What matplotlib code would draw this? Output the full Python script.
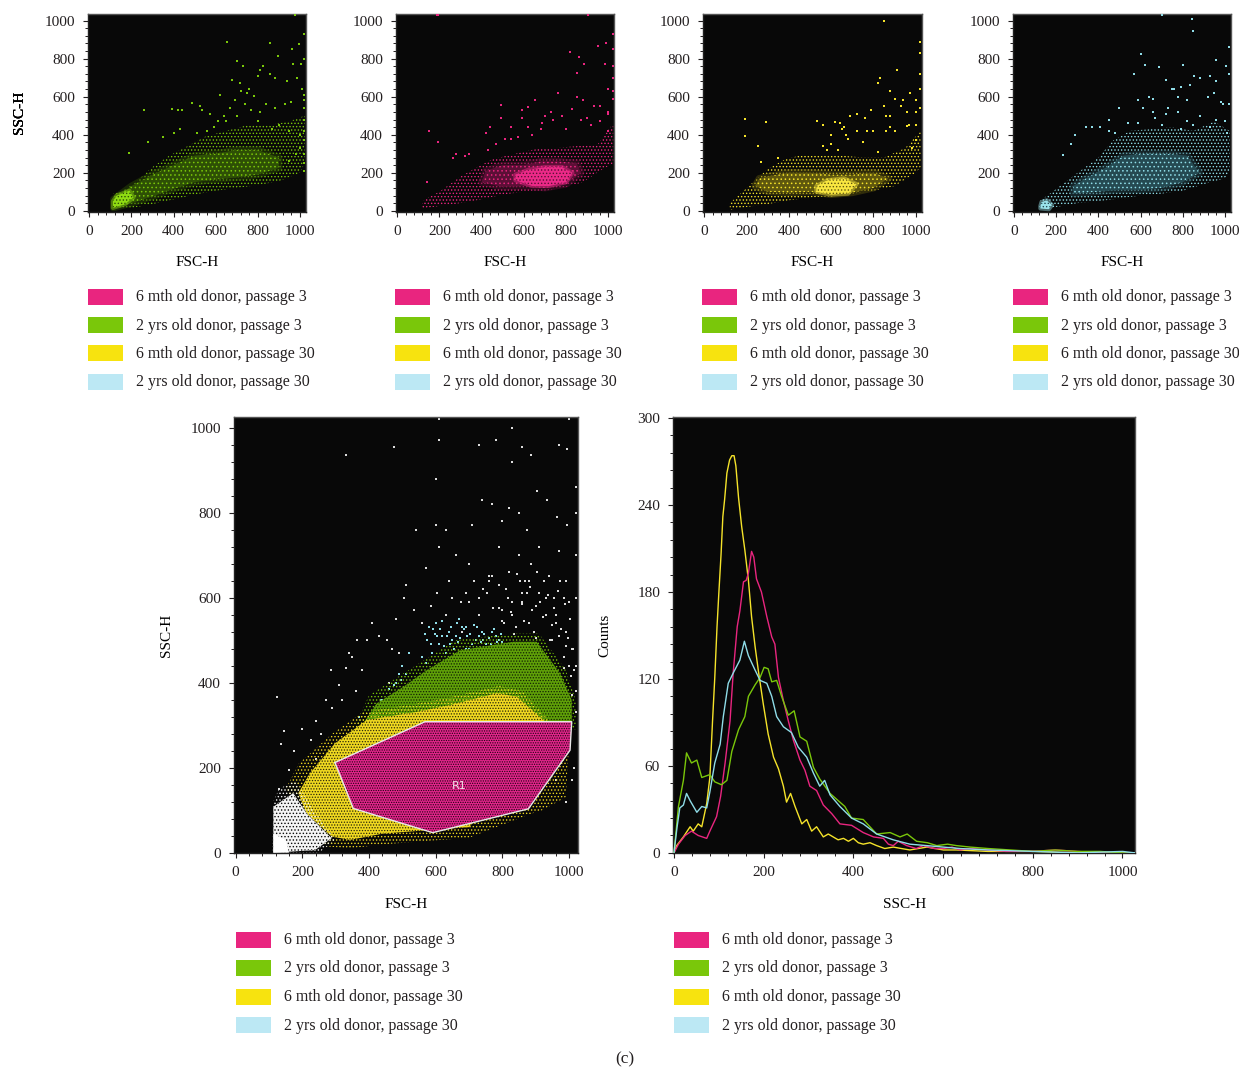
import matplotlib
matplotlib.use("Agg")
import matplotlib.pyplot as plt
from matplotlib.patches import Polygon, Rectangle

plt.rcParams["font.family"] = ["Liberation Serif", "DejaVu Serif"]
plt.rcParams["font.size"] = 11
plt.rcParams["hatch.linewidth"] = 0.6
plt.rcParams["text.color"] = "#231f20"

W, H = 1239, 1070

legend_labels = [
    "6 mth old donor, passage 3",
    "2 yrs old donor, passage 3",
    "6 mth old donor, passage 30",
    "2 yrs old donor, passage 30",
]
legend_colors = ["#e9257f", "#7ac70a", "#f7e30f", "#bce8f4"]

# green panel: cloud outlines
green_outer_x = [115, 200, 300, 400, 500, 600, 700, 800, 900, 1000, 1023, 1023, 950, 850, 750, 650, 550, 450, 380, 300, 220, 150, 115]
green_outer_y = [10, 15, 35, 60, 85, 105, 120, 135, 155, 200, 250, 500, 470, 450, 450, 420, 390, 330, 290, 230, 150, 100, 90]
green_core_x = [115, 200, 300, 400, 500, 600, 700, 800, 900, 900, 800, 700, 600, 500, 400, 300, 200, 115]
green_core_y = [15, 40, 75, 115, 150, 165, 175, 190, 225, 280, 320, 320, 300, 290, 240, 190, 130, 60]
green_hot_x = [112, 170, 210, 190, 130, 112]
green_hot_y = [15, 35, 70, 105, 80, 50]
green_x = [261, 391, 423, 439, 486, 526, 534, 573, 652, 858, 703, 732, 827, 898, 961, 996, 977, 1020, 1020, 715, 680, 810, 800, 860, 880, 940, 985, 1005, 970, 1010, 960, 930, 1020, 1020, 1020, 1020, 1020, 1020, 1020, 1020, 1020, 620, 750, 720, 780, 690, 670, 740, 770, 810, 840, 880, 760, 700, 640, 610, 650, 590, 560, 510, 430, 400, 350, 280, 190, 900, 950, 870, 800, 1000, 1000, 980, 950]
green_y = [530, 535, 530, 530, 568, 551, 530, 507, 889, 884, 788, 763, 763, 814, 851, 877, 1030, 930, 800, 670, 690, 740, 710, 720, 700, 680, 700, 770, 770, 640, 570, 560, 610, 580, 540, 480, 420, 370, 300, 250, 210, 610, 620, 630, 605, 580, 540, 560, 530, 520, 560, 540, 640, 500, 500, 470, 470, 440, 420, 410, 430, 410, 390, 360, 305, 450, 420, 430, 470, 400, 330, 300, 260]

# pink panel
pink_outer_x = [115, 200, 300, 400, 500, 600, 700, 800, 880, 960, 1023, 1023, 950, 850, 750, 680, 600, 520, 450, 380, 300, 200, 130, 115]
pink_outer_y = [10, 25, 40, 60, 85, 100, 105, 125, 150, 210, 250, 460, 350, 340, 330, 330, 310, 290, 270, 230, 180, 100, 60, 30]
pink_core_x = [400, 500, 600, 700, 800, 870, 850, 760, 680, 600, 500, 420, 400]
pink_core_y = [150, 125, 130, 120, 140, 200, 250, 260, 260, 240, 240, 210, 150]
pink_hot_x = [560, 640, 720, 800, 830, 780, 700, 620, 560]
pink_hot_y = [160, 130, 130, 150, 200, 230, 230, 215, 190]
pink_x = [190, 150, 140, 195, 280, 265, 320, 340, 440, 420, 490, 490, 540, 590, 590, 620, 655, 685, 820, 860, 885, 850, 950, 990, 985, 1020, 1020, 1020, 1020, 905, 195, 1000, 1020, 1020, 1000, 880, 900, 930, 960, 830, 760, 740, 700, 680, 640, 570, 540, 510, 470, 430, 620, 730, 780, 800, 870, 850, 960, 1000, 1000, 920]
pink_y = [1030, 420, 150, 360, 300, 280, 290, 300, 440, 410, 490, 555, 380, 530, 490, 545, 585, 460, 835, 810, 770, 725, 865, 885, 770, 930, 850, 760, 700, 1030, 1030, 640, 630, 590, 520, 580, 490, 550, 470, 535, 620, 480, 500, 430, 400, 390, 440, 380, 350, 320, 440, 520, 500, 430, 480, 600, 550, 510, 420, 450]

# yellow panel
yellow_outer_x = [120, 200, 300, 400, 500, 600, 700, 800, 900, 1000, 1023, 1023, 950, 850, 750, 650, 550, 450, 380, 300, 220, 160, 120]
yellow_outer_y = [5, 20, 35, 55, 70, 75, 90, 105, 130, 200, 230, 420, 330, 280, 280, 290, 290, 290, 270, 220, 140, 80, 40]
yellow_core_x = [240, 300, 400, 500, 600, 700, 800, 870, 800, 700, 600, 500, 400, 320, 260, 240]
yellow_core_y = [130, 100, 95, 100, 85, 95, 120, 170, 200, 190, 190, 200, 200, 185, 170, 130]
yellow_hot_x = [530, 600, 680, 720, 660, 580, 530]
yellow_hot_y = [100, 85, 90, 140, 170, 160, 130]
yellow_x = [190, 190, 290, 255, 270, 350, 535, 560, 600, 620, 650, 680, 690, 720, 750, 790, 800, 820, 850, 820, 830, 880, 900, 910, 930, 960, 975, 850, 860, 880, 970, 1000, 1020, 1020, 1020, 1020, 1020, 940, 900, 1000, 1000, 960, 880, 860, 720, 770, 760, 600, 630, 640, 660, 670, 560, 580, 1000, 980]
yellow_y = [485, 395, 465, 340, 255, 280, 470, 450, 400, 465, 430, 380, 500, 510, 360, 530, 420, 310, 1000, 670, 700, 630, 590, 740, 550, 520, 620, 550, 500, 500, 450, 580, 890, 830, 720, 640, 540, 580, 420, 520, 450, 445, 440, 420, 420, 420, 490, 350, 320, 460, 440, 400, 340, 320, 370, 330]

# cyan panel
cyan_outer_x = [120, 200, 300, 400, 500, 600, 700, 800, 900, 1000, 1023, 1023, 950, 850, 750, 650, 550, 470, 400, 320, 230, 170, 120]
cyan_outer_y = [15, 20, 40, 50, 65, 80, 90, 105, 140, 170, 210, 420, 470, 420, 440, 430, 420, 370, 280, 215, 140, 90, 50]
cyan_core_x = [280, 400, 500, 600, 700, 800, 880, 820, 720, 620, 520, 440, 340, 280]
cyan_core_y = [90, 100, 110, 110, 120, 150, 200, 290, 300, 300, 290, 230, 170, 130]
cyan_hot_x = [125, 165, 180, 155, 130, 125]
cyan_hot_y = [12, 8, 30, 55, 45, 25]
cyan_x = [600, 620, 570, 690, 800, 845, 850, 960, 700, 760, 720, 750, 790, 835, 855, 880, 930, 960, 1005, 1020, 1020, 1020, 990, 980, 950, 920, 590, 660, 820, 780, 660, 640, 610, 500, 450, 370, 340, 290, 270, 230, 450, 410, 480, 540, 590, 670, 720, 730, 780, 820, 880, 930, 960, 1000, 1010, 850, 790, 700]
cyan_y = [825, 765, 720, 755, 765, 1010, 945, 795, 1030, 640, 690, 640, 650, 660, 710, 700, 710, 680, 760, 860, 720, 560, 560, 570, 620, 600, 580, 520, 580, 600, 590, 600, 540, 540, 480, 440, 440, 400, 350, 295, 420, 440, 410, 460, 460, 490, 510, 540, 520, 470, 500, 440, 480, 470, 410, 450, 430, 450]

# gated overlay panel
gate_x = [298, 568, 1008, 1003, 878, 591, 353, 298]
gate_y = [212, 308, 308, 241, 103, 47, 104, 212]
ov_green_x = [383, 423, 503, 573, 673, 833, 903, 973, 1008, 1008, 600, 383]
ov_green_y = [304, 351, 390, 429, 476, 496, 496, 422, 359, 300, 290, 300]
ov_green_fringe_x = [360, 400, 480, 560, 660, 830, 910, 990, 1020, 1020, 360]
ov_green_fringe_y = [300, 370, 410, 450, 500, 515, 515, 430, 360, 290, 290]
ov_yellow_x = [288, 213, 188, 223, 298, 393, 543, 643, 783, 843, 923, 960, 700, 443, 343, 288]
ov_yellow_y = [38, 92, 140, 187, 257, 312, 331, 347, 375, 367, 312, 290, 60, 45, 30, 38]
ov_yellow_fringe_x = [270, 190, 150, 190, 290, 380, 540, 640, 790, 860, 940, 1000, 990, 920, 880, 700, 450, 340]
ov_yellow_fringe_y = [15, 80, 150, 210, 280, 330, 350, 365, 392, 380, 310, 250, 130, 100, 90, 35, 20, 10]
ov_white_x = [113, 238, 288, 213, 173, 113]
ov_white_y = [0, 6, 34, 92, 140, 108]
ov_white_fringe_x = [110, 250, 300, 225, 180, 130, 113]
ov_white_fringe_y = [0, 0, 30, 110, 170, 150, 120]
ov_solid_x = [113, 160, 150, 113]
ov_solid_y = [0, 0, 30, 45]
ov_white_pts_x = [125, 145, 135, 160, 175, 130, 200, 225, 240, 255,
                  270, 240, 290, 310, 320, 285, 330, 350, 340, 365,
                  395, 380, 360, 410, 430, 455, 470, 490, 505, 535,
                  560, 585, 605, 630, 650, 680, 700, 730, 760, 790,
                  830, 860, 885, 930, 960, 1000, 1020, 1020, 1020, 1020,
                  1020, 1020, 1020, 1010, 990, 970, 940, 910, 880, 850,
                  820, 790, 760, 730, 700, 660, 630, 600, 570, 540,
                  510, 480, 460, 440, 800, 830, 860, 900, 930, 960,
                  990, 880, 910, 950, 985, 800, 770, 740, 710, 675,
                  640, 610, 580, 820, 850, 875, 905, 935, 965, 995,
                  475, 330, 600, 610, 690, 730, 780, 830, 860, 830,
                  885, 970, 995, 590, 610, 1000, 1015, 1010, 990, 960,
                  790, 805, 818, 826, 842, 858, 866, 874, 888, 896,
                  912, 922, 936, 948, 954, 968, 976, 988, 996, 1004,
                  812, 836, 852, 882, 902, 926, 944, 972, 984, 1012,
                  1000, 1006, 985, 962, 978, 1014, 992, 1008, 970, 955,
                  755, 772, 798, 845, 868, 905, 742, 768, 716, 690]
ov_white_pts_y = [365, 285, 255, 195, 240, 150, 290, 265, 310, 280,
                  360, 220, 340, 395, 360, 430, 435, 460, 470, 500,
                  500, 430, 380, 540, 510, 500, 480, 470, 600, 570,
                  540, 580, 610, 560, 600, 520, 590, 560, 640, 630,
                  590, 610, 680, 600, 560, 590, 600, 700, 800, 860,
                  440, 380, 330, 480, 640, 710, 650, 720, 640, 700,
                  660, 720, 650, 600, 680, 700, 760, 770, 670, 760,
                  630, 550, 400, 360, 570, 560, 590, 580, 560, 540,
                  520, 540, 610, 500, 460, 780, 820, 830, 770, 590,
                  640, 720, 530, 810, 800, 760, 850, 830, 790, 770,
                  955, 935, 880, 970, 1025, 960, 970, 920, 955, 1000,
                  935, 960, 950, 1025, 1020, 1020, 200, 170, 120, 170,
                  575, 540, 600, 565, 530, 585, 545, 610, 570, 520,
                  590, 555, 605, 535, 575, 615, 525, 585, 505, 550,
                  620, 515, 640, 625, 505, 640, 500, 640, 600, 480,
                  440, 415, 435, 560, 395, 430, 485, 370, 510, 600,
                  610, 575, 545, 655, 640, 660, 620, 650, 640, 610]
ov_cyan_x = [440, 460, 480, 490, 500, 510, 520, 430, 450, 470, 560, 580, 600, 620, 640, 660, 680, 700, 720, 740, 760, 780, 800, 560, 590, 610, 630, 650, 670, 690, 710, 730, 750, 770, 790, 575, 605, 635, 665, 695, 725, 370, 390, 410, 345, 440, 470, 550, 530, 600, 640,
             570, 585, 598, 612, 625, 645, 655, 672, 685, 702, 715, 735, 745, 765, 775, 785, 795, 568, 592, 618, 642, 668, 692, 716, 742, 768, 420, 435, 455, 475, 495]
ov_cyan_y = [360, 385, 400, 420, 440, 420, 470, 330, 345, 370, 460, 530, 540, 545, 520, 510, 530, 480, 500, 520, 505, 510, 495, 400, 470, 490, 470, 500, 550, 480, 490, 510, 490, 480, 500, 500, 510, 510, 540, 510, 530, 320, 280, 290, 260, 300, 320, 410, 390, 420, 440,
             445, 490, 515, 525, 485, 530, 480, 505, 525, 515, 535, 495, 515, 490, 525, 495, 515, 515, 525, 510, 490, 495, 530, 475, 500, 520, 345, 360, 350, 395, 405]

# histogram curves
hist_pink_x = [0, 10, 25, 39, 54, 73, 80, 95, 104, 114, 125, 132, 141, 147, 155, 161, 166, 173, 178, 184, 195, 207, 218, 225, 233, 244, 255, 266, 281, 292, 303, 318, 333, 352, 370, 396, 422, 445, 467, 478, 489, 500, 519, 540, 556, 580, 601, 620, 638, 660, 700, 740, 800, 850, 900, 950, 1000, 1028]
hist_pink_y = [0, 6, 12, 15, 12, 10, 15, 25, 39, 62, 91, 124, 156, 167, 187, 188, 193, 208, 204, 189, 180, 163, 149, 144, 121, 105, 91, 78, 64, 57, 46, 43, 33, 27, 20, 19, 14, 11, 10, 6, 5, 8, 5, 3, 5, 3, 3, 4, 2, 3, 2, 1, 1, 2, 1, 0, 0, 0]
hist_green_x = [0, 10, 21, 28, 39, 51, 62, 80, 91, 106, 118, 129, 144, 158, 166, 181, 192, 201, 210, 218, 229, 240, 255, 268, 281, 296, 311, 325, 348, 381, 396, 422, 452, 482, 504, 520, 541, 565, 586, 610, 630, 660, 700, 750, 800, 850, 900, 950, 1000, 1028]
hist_green_y = [0, 32, 50, 69, 62, 64, 52, 54, 49, 47, 50, 70, 85, 94, 108, 116, 121, 128, 127, 118, 119, 108, 95, 98, 80, 77, 59, 51, 41, 32, 24, 23, 13, 14, 11, 13, 8, 7, 5, 6, 5, 4, 3, 2, 1, 2, 1, 1, 0, 0]
hist_yellow_x = [0, 6, 21, 36, 43, 54, 62, 73, 80, 86, 91, 96, 100, 105, 109, 113, 118, 124, 129, 134, 138, 144, 151, 158, 166, 173, 181, 188, 199, 210, 222, 233, 244, 251, 260, 270, 285, 296, 307, 318, 333, 344, 355, 366, 378, 389, 400, 411, 422, 437, 452, 470, 489, 507, 526, 545, 564, 601, 630, 700, 800, 900, 1000, 1028]
hist_yellow_y = [0, 5, 11, 18, 15, 20, 18, 34, 52, 91, 121, 156, 179, 206, 232, 244, 262, 271, 274, 274, 267, 245, 225, 209, 188, 163, 142, 126, 103, 82, 66, 58, 46, 35, 41, 32, 20, 23, 15, 18, 11, 13, 11, 9, 10, 8, 10, 7, 6, 7, 5, 3, 4, 3, 2, 3, 4, 2, 2, 1, 1, 0, 0, 0]
hist_cyan_x = [0, 7, 13, 21, 28, 36, 51, 62, 73, 80, 91, 103, 110, 121, 132, 147, 157, 166, 181, 192, 207, 218, 229, 244, 262, 277, 296, 311, 325, 336, 348, 370, 396, 422, 452, 489, 526, 564, 600, 638, 700, 800, 900, 1000, 1028]
hist_cyan_y = [0, 18, 31, 33, 41, 36, 28, 32, 31, 42, 62, 75, 94, 117, 124, 133, 146, 136, 126, 119, 117, 108, 94, 87, 83, 73, 66, 55, 46, 50, 40, 32, 24, 20, 13, 9, 6, 5, 4, 3, 2, 1, 0, 1, 0]

hist_yticks = [0, 60, 120, 180, 240, 300]
scatter_ticks = [0, 200, 400, 600, 800, 1000]

BG = "#080808"
SPINE = "#555555"


def px_axes(left, top, right, bottom):
    return fig.add_axes([left / W, 1 - bottom / H, (right - left) / W, (bottom - top) / H], facecolor=BG)


def style(ax, xticks, yticks, xminor, yminor, xlabel, ylabel, ylabel_x):
    ax.set_xticks(xticks)
    ax.set_yticks(yticks)
    ax.set_xticks(xminor, minor=True)
    ax.set_yticks(yminor, minor=True)
    ax.tick_params(which="major", direction="out", length=3.5, width=0.8, pad=6, labelsize=11, colors="#231f20")
    ax.tick_params(which="minor", direction="out", length=2, width=0.7, color="#231f20")
    for side in ax.spines:
        ax.spines[side].set_color(SPINE if side in ("top", "right") else "#222222")
        ax.spines[side].set_linewidth(1.0)
    ax.set_xlabel(xlabel, fontsize=11, labelpad=13)
    ax.set_ylabel(ylabel, fontsize=11)
    ax.yaxis.set_label_coords(ylabel_x, 0.5)


def cloud(ax, xs, ys, face, dots, hatch, zorder=1):
    ax.add_patch(Polygon(list(zip(xs, ys)), closed=True, facecolor=face, edgecolor=dots,
                         hatch=hatch, linewidth=0, zorder=zorder))


def soft_edge(ax, xs, ys, color, width, zorder=1):
    # translucent border so a dense region fades out instead of ending on a hard line
    ax.add_patch(Polygon(list(zip(xs, ys)), closed=True, fill=False, edgecolor=color,
                         alpha=0.45, linewidth=width, joinstyle="round", zorder=zorder))


def legend(x_patch, y_rows):
    for label, color, y in zip(legend_labels, legend_colors, y_rows):
        fig.add_artist(Rectangle((x_patch / W, 1 - (y + 8) / H), 35 / W, 16 / H,
                                 transform=fig.transFigure, facecolor=color, edgecolor="none"))
        fig.text((x_patch + 48) / W, 1 - (y + 0.5) / H, label, fontsize=11.4, va="center", ha="left")


fig = plt.figure(figsize=(W / 100, H / 100), dpi=100, facecolor="white")

top_panels = [
    (88.3, 305.7, green_outer_x, green_outer_y, green_core_x, green_core_y, green_hot_x, green_hot_y, green_x, green_y,
     "#7ac70a", "#2e5005", "#8fdc12", 88),
    (396, 614.3, pink_outer_x, pink_outer_y, pink_core_x, pink_core_y, pink_hot_x, pink_hot_y, pink_x, pink_y,
     "#e9257f", "#5c0f36", "#ec2a88", 395),
    (703.3, 921.7, yellow_outer_x, yellow_outer_y, yellow_core_x, yellow_core_y, yellow_hot_x, yellow_hot_y, yellow_x, yellow_y,
     "#f5e32a", "#5f570e", "#f8e640", 702),
    (1013, 1230.7, cyan_outer_x, cyan_outer_y, cyan_core_x, cyan_core_y, cyan_hot_x, cyan_hot_y, cyan_x, cyan_y,
     "#8fdde8", "#254a52", "#9be4ec", 1013),
]

for p in top_panels:
    left, right, ox, oy, cx, cy, hx, hy, sx, sy, dot, mid, hot, leg_x = p
    ax = px_axes(left, 14, right, 211.7)
    ax.set_xlim(-5, 1028)
    ax.set_ylim(-5, 1035)
    cloud(ax, ox, oy, "none", dot, ".....")
    soft_edge(ax, cx, cy, mid, 5)
    cloud(ax, cx, cy, mid, dot, "....")
    soft_edge(ax, hx, hy, hot, 3, zorder=2)
    cloud(ax, hx, hy, hot, mid, ".....", zorder=2)
    ax.scatter(sx, sy, s=1.6, marker="s", color=dot, linewidths=0, zorder=3)
    style(ax, scatter_ticks, scatter_ticks, range(40, 1021, 40), range(40, 1021, 40), "FSC-H", "SSC-H", (26 - left) / (right - left))
    legend(leg_x, [296.5, 325, 353.5, 382])

# gated overlay
ax = px_axes(234.3, 417.3, 577.7, 853.3)
ax.set_xlim(-4, 1026)
ax.set_ylim(-1.5, 1024)
ax.scatter(ov_white_pts_x, ov_white_pts_y, s=1.6, marker="s", color="#dddddd", linewidths=0, zorder=1)
ax.scatter(ov_cyan_x, ov_cyan_y, s=1.6, marker="s", color="#8fdde8", linewidths=0, zorder=1)
cloud(ax, ov_green_fringe_x, ov_green_fringe_y, "none", "#7ac70a", ".....", zorder=2)
cloud(ax, ov_green_x, ov_green_y, "#5fa008", "#122203", "......", zorder=2)
cloud(ax, ov_yellow_fringe_x, ov_yellow_fringe_y, "none", "#efd820", ".....", zorder=3)
cloud(ax, ov_yellow_x, ov_yellow_y, "#efd820", "#2a2608", "......", zorder=3)
cloud(ax, ov_white_fringe_x, ov_white_fringe_y, "none", "#f4f4f4", ".....", zorder=4)
cloud(ax, ov_white_x, ov_white_y, "#f4f4f4", "#080808", ".....", zorder=4)
ax.fill(ov_solid_x, ov_solid_y, color="white", linewidth=0, zorder=5)
cloud(ax, gate_x, gate_y, "#e2248a", "#1c0410", ".......", zorder=5)
ax.plot(gate_x, gate_y, color="#e8e8e8", linewidth=1.0, zorder=6)
ax.text(671, 157, "R1", color="#f0e0e8", fontsize=8, ha="center", va="center", family="DejaVu Sans", zorder=7)
style(ax, scatter_ticks, scatter_ticks, range(40, 1021, 40), range(40, 1021, 40), "FSC-H", "SSC-H", (173 - 234.3) / (577.7 - 234.3))
legend(236, [939.5, 968, 996.5, 1025])

# histogram
ax = px_axes(673.3, 417.3, 1135, 853.3)
ax.set_xlim(-1.5, 1028)
ax.set_ylim(-0.3, 300.5)
ax.plot(hist_yellow_x, hist_yellow_y, color="#f5e32a", linewidth=1.0, zorder=2)
ax.plot(hist_pink_x, hist_pink_y, color="#e9257f", linewidth=1.0, zorder=3)
ax.plot(hist_green_x, hist_green_y, color="#7ac70a", linewidth=1.0, zorder=4)
ax.plot(hist_cyan_x, hist_cyan_y, color="#8fdde8", linewidth=1.0, zorder=5)
style(ax, scatter_ticks, hist_yticks, range(40, 1021, 40), range(12, 300, 12), "SSC-H", "Counts", (611 - 673.3) / (1135 - 673.3))
legend(674, [939.5, 968, 996.5, 1025])

fig.text(625 / W, 1 - 1059 / H, "(c)", fontsize=12.5, ha="center", va="center")

fig.savefig("out.png", dpi=100)
plt.close(fig)
